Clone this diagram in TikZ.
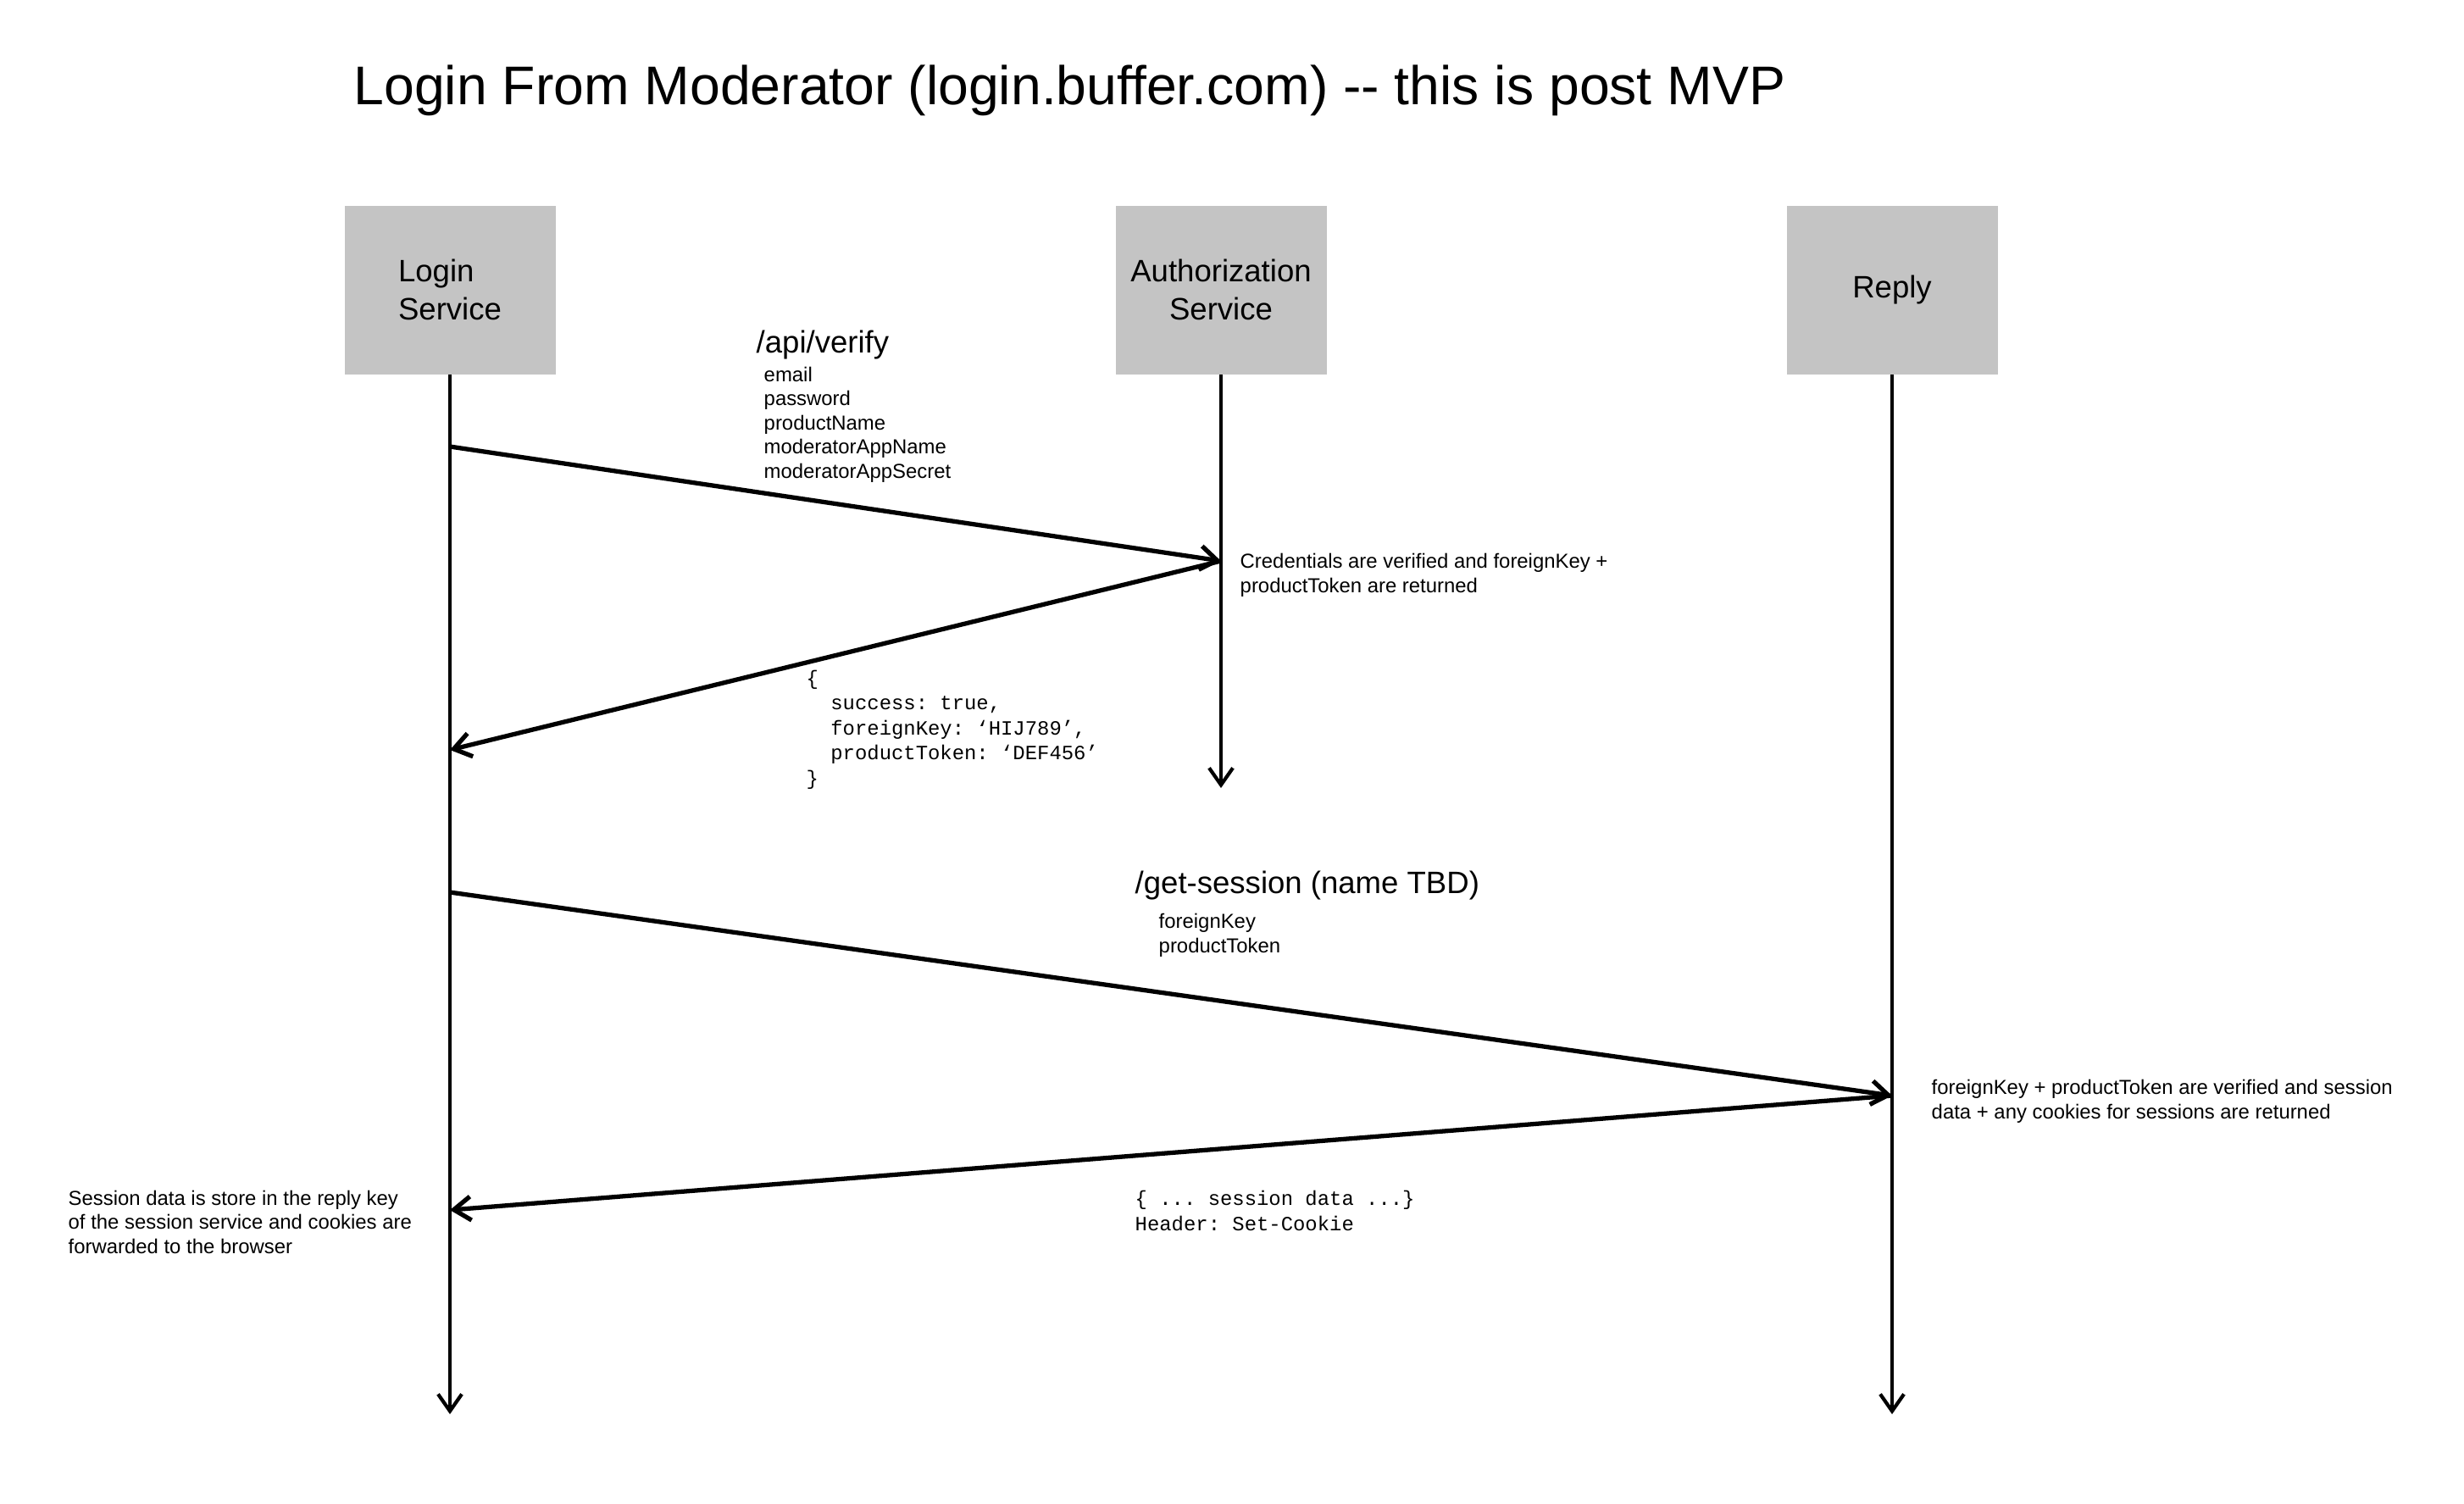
\documentclass[tikz,border=0pt]{standalone}
\usepackage{fontspec}
\setmainfont{Liberation Sans}
\setmonofont{Liberation Mono}
\usepackage{tikz}
\usetikzlibrary{arrows.meta}
\definecolor{boxgray}{RGB}{196,196,196}

\begin{document}
\begin{tikzpicture}[
        lifebox/.style={fill=boxgray, minimum width=2.49cm, minimum height=1.99cm, inner sep=0pt, font=\fontsize{10.4}{12.6}\selectfont},
        life/.style={line width=1.2pt, -{Straight Barb[length=2mm,width=2.8mm]}},
        msg/.style={line width=1.5pt, -{Straight Barb[length=2mm,width=2.8mm]}},
        note/.style={anchor=west, inner sep=0pt, align=left, font=\fontsize{6.8}{8.1}\selectfont},
        code/.style={anchor=west, inner sep=0pt, align=left, font=\ttfamily\fontsize{6.8}{8.4}\selectfont},
        call/.style={anchor=west, inner sep=0pt, font=\fontsize{10.4}{12.6}\selectfont}]
        \useasboundingbox (0,0) rectangle (29.08,-17.74);
        \node [anchor=west, inner sep=0pt, font=\fontsize{18.3}{22}\selectfont] (title) at (4.17,-1.07) {Login From Moderator (login.buffer.com) -{}- this is post MVP};
        % participants
        \node [lifebox, align=left] (login) at (5.31,-3.42) {Login\\Service};
        \node [lifebox, align=center] (auth) at (14.41,-3.42) {Authorization\\Service};
        \node [lifebox] (reply) at (22.33,-3.42) {Reply};
        \coordinate (loginend) at (5.31,-16.69);
        \coordinate (authend) at (14.41,-9.30);
        \coordinate (replyend) at (22.33,-16.69);
        \draw [life] (login) -- (loginend);
        \draw [life] (auth) -- (authend);
        \draw [life] (reply) -- (replyend);
        % message points on the lifelines
        \coordinate (verifyout) at (5.31,-5.27);
        \coordinate (verifyin) at (14.41,-6.62);
        \coordinate (verifyback) at (5.31,-8.85);
        \coordinate (sessionout) at (5.31,-10.53);
        \coordinate (sessionin) at (22.33,-12.93);
        \coordinate (sessionback) at (5.31,-14.28);
        \draw [msg] (verifyout) -- (verifyin);
        \draw [msg] (verifyin) -- (verifyback);
        \draw [msg] (sessionout) -- (sessionin);
        \draw [msg] (sessionin) -- (sessionback);
        % labels
        \node [call] (verify) at (8.92,-4.07) {/api/verify};
        \node [note] (verifyargs) at (9.01,-5.01) {email\\password\\productName\\moderatorAppName\\moderatorAppSecret};
        \node [note] (authnote) at (14.63,-6.79) {Credentials are verified and foreignKey +\\productToken are returned};
        \node [code] (authreply) at (9.51,-8.61) {\{\\\phantom{xx}success: true,\\\phantom{xx}foreignKey: ‘HIJ789’,\\\phantom{xx}productToken: ‘DEF456’\\\}};
        \node [call] (session) at (13.39,-10.45) {/get-session (name TBD)};
        \node [note] (sessionargs) at (13.67,-11.04) {foreignKey\\productToken};
        \node [note] (replynote) at (22.79,-13.00) {foreignKey + productToken are verified and session\\data + any cookies for sessions are returned};
        \node [code] (replydata) at (13.39,-14.29) {\{ ... session data ...\}\\Header: Set-Cookie};
        \node [note] (loginnote) at (0.80,-14.42) {Session data is store in the reply key\\of the session service and cookies are\\forwarded to the browser};
    \end{tikzpicture}
\end{document}
